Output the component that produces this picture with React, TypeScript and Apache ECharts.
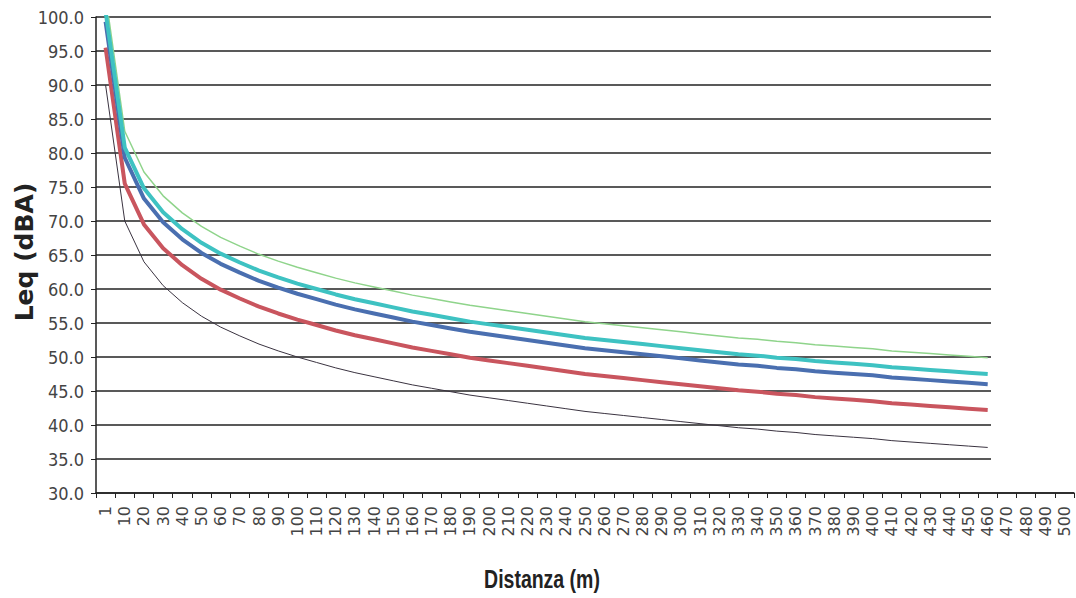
import React, { useEffect, useRef } from "react";
import * as echarts from "echarts";

const distances = [
  "1", "10", "20", "30", "40", "50", "60", "70", "80", "90", "100", "110", "120", "130", "140", "150",
  "160", "170", "180", "190", "200", "210", "220", "230", "240", "250", "260", "270", "280", "290", "300",
  "310", "320", "330", "340", "350", "360", "370", "380", "390", "400", "410", "420", "430", "440", "450",
  "460", "470", "480", "490", "500",
];

const blackSeries = [
  90.0, 70.0, 64.0, 60.5, 58.0, 56.0, 54.4, 53.1, 51.9, 50.9, 50.0, 49.2, 48.4, 47.7, 47.1, 46.5,
  45.9, 45.4, 44.9, 44.4, 44.0, 43.6, 43.2, 42.8, 42.4, 42.0, 41.7, 41.4, 41.1, 40.8, 40.5,
  40.2, 39.9, 39.6, 39.4, 39.1, 38.9, 38.6, 38.4, 38.2, 38.0, 37.7, 37.5, 37.3, 37.1, 36.9, 36.7,
];
const redSeries = [
  95.5, 75.5, 69.5, 66.0, 63.5, 61.5, 59.9, 58.6, 57.4, 56.4, 55.5, 54.7, 53.9, 53.2, 52.6, 52.0,
  51.4, 50.9, 50.4, 49.9, 49.5, 49.1, 48.7, 48.3, 47.9, 47.5, 47.2, 46.9, 46.6, 46.3, 46.0,
  45.7, 45.4, 45.1, 44.9, 44.6, 44.4, 44.1, 43.9, 43.7, 43.5, 43.2, 43.0, 42.8, 42.6, 42.4, 42.2,
];
const blueSeries = [
  99.3, 79.3, 73.3, 69.8, 67.3, 65.3, 63.7, 62.4, 61.2, 60.2, 59.3, 58.5, 57.7, 57.0, 56.4, 55.8,
  55.2, 54.7, 54.2, 53.7, 53.3, 52.9, 52.5, 52.1, 51.7, 51.3, 51.0, 50.7, 50.4, 50.1, 49.8,
  49.5, 49.2, 48.9, 48.7, 48.4, 48.2, 47.9, 47.7, 47.5, 47.3, 47.0, 46.8, 46.6, 46.4, 46.2, 46.0,
];
const cyanSeries = [
  100.8, 80.8, 74.8, 71.3, 68.8, 66.8, 65.2, 63.9, 62.7, 61.7, 60.8, 60.0, 59.2, 58.5, 57.9, 57.3,
  56.7, 56.2, 55.7, 55.2, 54.8, 54.4, 54.0, 53.6, 53.2, 52.8, 52.5, 52.2, 51.9, 51.6, 51.3,
  51.0, 50.7, 50.4, 50.2, 49.9, 49.7, 49.4, 49.2, 49.0, 48.8, 48.5, 48.3, 48.1, 47.9, 47.7, 47.5,
];
const greenSeries = [
  103.2, 83.2, 77.2, 73.7, 71.2, 69.2, 67.6, 66.3, 65.1, 64.1, 63.2, 62.4, 61.6, 60.9, 60.3, 59.7,
  59.1, 58.6, 58.1, 57.6, 57.2, 56.8, 56.4, 56.0, 55.6, 55.2, 54.9, 54.6, 54.3, 54.0, 53.7,
  53.4, 53.1, 52.8, 52.6, 52.3, 52.1, 51.8, 51.6, 51.4, 51.2, 50.9, 50.7, 50.5, 50.3, 50.1, 49.9,
];

const yAxisTitle = "Leq (dBA)";
const xAxisTitle = "Distanza (m)";

const narrow = "'Liberation Sans Narrow', 'DejaVu Sans Condensed', 'Liberation Sans', sans-serif";

export default function App() {
  const ref = useRef<HTMLDivElement>(null);

  useEffect(() => {
    if (!ref.current) return;
    const chart = echarts.init(ref.current, undefined, { renderer: "svg" });
    const mk = (name: string, data: number[], color: string, width: number, z: number) => ({
      name,
      type: "line",
      data,
      showSymbol: false,
      symbol: "none",
      clip: true,
      z,
      lineStyle: { color, width },
    });
    chart.setOption({
      animation: false,
      backgroundColor: "#ffffff",
      grid: { left: 96, right: 2, top: 17, bottom: 105, containLabel: false },
      xAxis: {
        type: "category",
        data: distances,
        boundaryGap: true,
        axisLine: { lineStyle: { color: "#222", width: 1.5 } },
        axisTick: { show: true, length: 5, lineStyle: { color: "#222", width: 1 } },
        axisLabel: {
          interval: 0,
          rotate: 90,
          margin: 13,
          fontFamily: "'DejaVu Sans', sans-serif",
          fontSize: 16,
          color: "#444",
        },
        splitLine: { show: false },
      },
      yAxis: {
        type: "value",
        min: 30,
        max: 100,
        interval: 5,
        axisLine: { show: true, lineStyle: { color: "#222", width: 1.5 } },
        axisTick: { show: true, length: 5, lineStyle: { color: "#222", width: 1 } },
        axisLabel: {
          margin: 12,
          fontFamily: narrow,
          fontSize: 18,
          color: "#444",
          formatter: (v: number) => v.toFixed(1),
        },
        splitLine: { show: true, lineStyle: { color: "#222", width: 1.5 } },
      },
      series: [
        mk("A", blackSeries, "#3a3340", 1, 2),
        mk("B", greenSeries, "#8fd48b", 1.5, 2),
        mk("C", redSeries, "#c9555e", 4, 3),
        mk("D", blueSeries, "#4a6fb0", 4, 3),
        mk("E", cyanSeries, "#3ec2c2", 4, 4),
      ],
      graphic: [
        {
          type: "rect",
          z: 100,
          shape: { x: 991, y: 0, width: 90, height: 470 },
          style: { fill: "#ffffff" },
        },
        {
          type: "text",
          z: 100,
          x: 24,
          y: 252,
          rotation: Math.PI / 2,
          style: {
            text: yAxisTitle,
            fontFamily: "'DejaVu Sans', sans-serif",
            fontWeight: "bold",
            fontSize: 25,
            fill: "#222",
            align: "center",
            verticalAlign: "middle",
          },
        },
        {
          type: "text",
          z: 100,
          x: 542,
          y: 579,
          scaleX: 0.75,
          style: {
            text: xAxisTitle,
            fontFamily: "'Liberation Sans', Arial, sans-serif",
            fontWeight: "bold",
            fontSize: 26,
            fill: "#222",
            align: "center",
            verticalAlign: "middle",
          },
        },
      ],
    });
    return () => chart.dispose();
  }, []);

  return (
    <div
      ref={ref}
      style={{ position: "fixed", left: 0, top: 0, width: 1076, height: 598 }}
    />
  );
}
